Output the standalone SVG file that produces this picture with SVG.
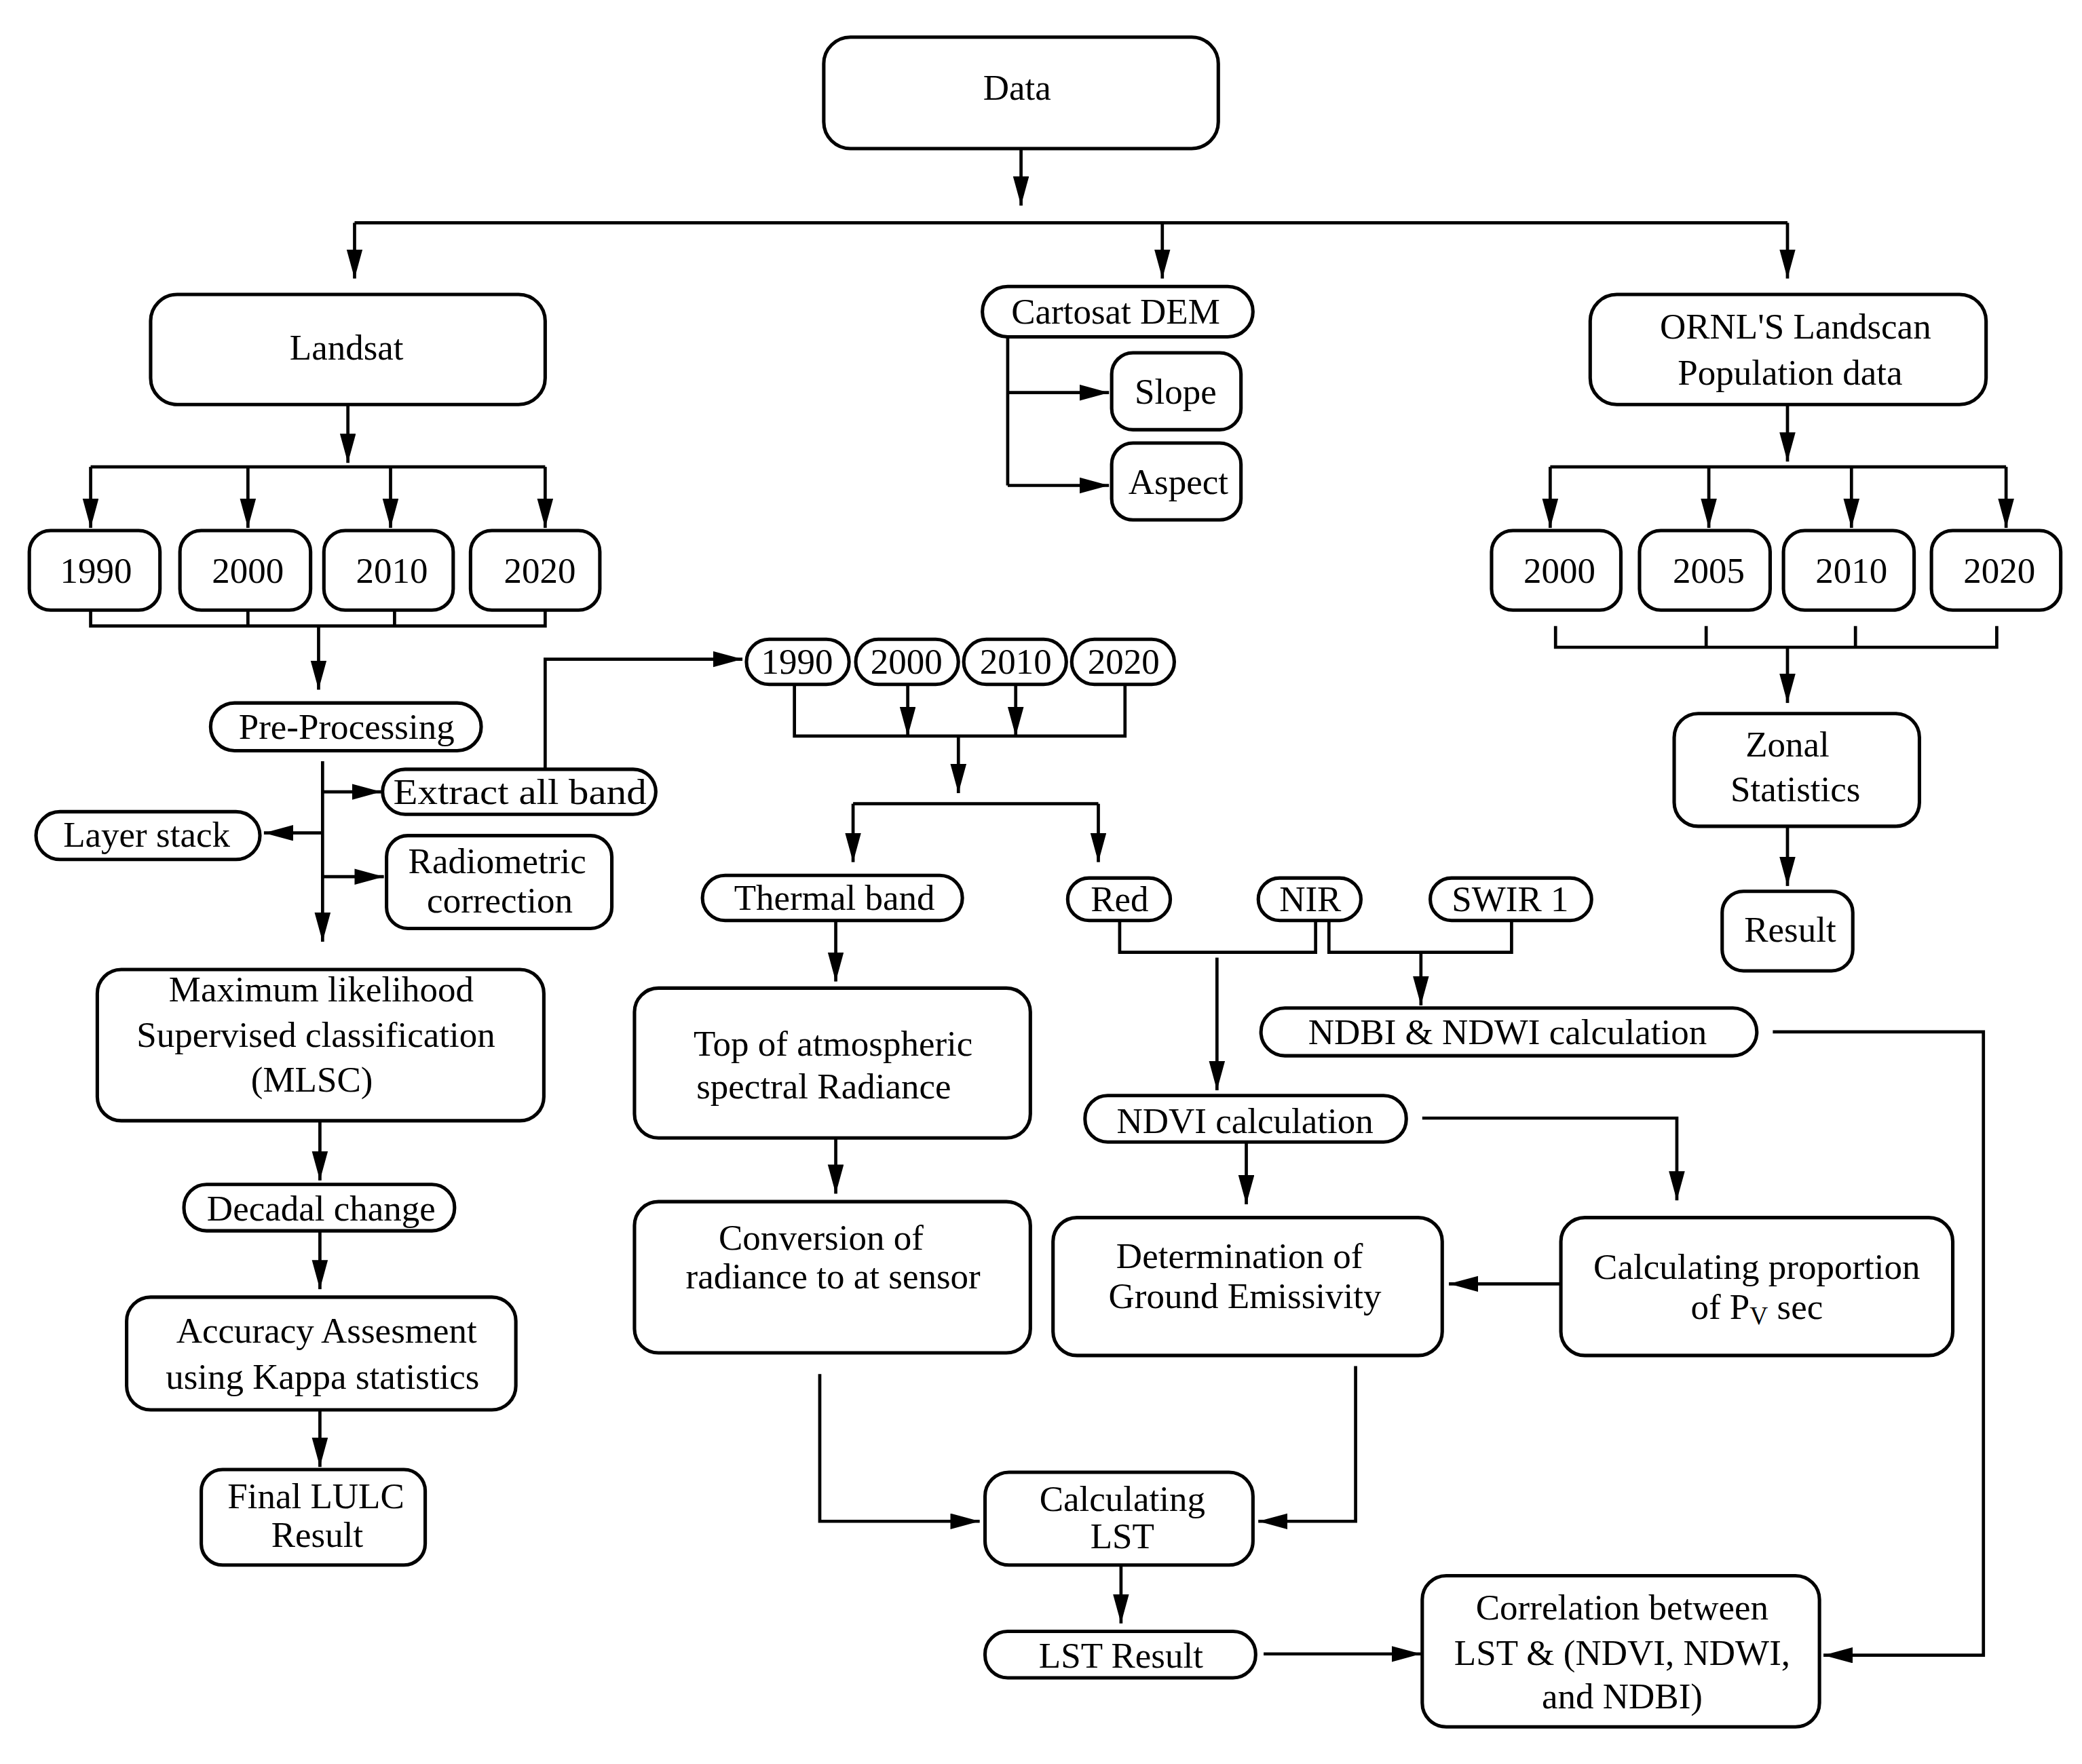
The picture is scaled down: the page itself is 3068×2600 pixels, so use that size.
<svg xmlns="http://www.w3.org/2000/svg" width="3068" height="2600" viewBox="0 0 3068 2600">
<style>
.b{fill:#fff;stroke:#000;stroke-width:2.6}
.c{fill:none;stroke:#000;stroke-width:2.4}
.a{fill:none;stroke:#000;stroke-width:2.4;marker-end:url(#ah)}
text{font-family:"Liberation Serif","Times New Roman",serif;font-size:27px;text-anchor:middle;dominant-baseline:central;fill:#000}
</style>
<defs>
<marker id="ah" markerUnits="userSpaceOnUse" markerWidth="24" markerHeight="14" refX="22" refY="6" orient="auto">
<path d="M0,0 L22,6 L0,12 Z" fill="#000"/>
</marker>
</defs>
<rect width="3068" height="2600" fill="#fff"/>
<g transform="scale(1.9642,1.9549)">
<g id="connectors">
<path class="a" d="M766,112 V155"/>
<path class="c" d="M266,168 H1341"/>
<path class="a" d="M266,168 V210"/><path class="a" d="M872,168 V210"/><path class="a" d="M1341,168 V210"/>
<path class="c" d="M756,254 V366"/>
<path class="a" d="M756,296 H832"/><path class="a" d="M756,366 H832"/>
<path class="a" d="M261,305 V349"/>
<path class="c" d="M68,352 H409"/>
<path class="a" d="M68,352 V398"/><path class="a" d="M186,352 V398"/><path class="a" d="M293,352 V398"/><path class="a" d="M409,352 V398"/>
<path class="c" d="M68,460 V472 H409 V460 M186,460 V472 M296,460 V472"/>
<path class="a" d="M239,472 V520"/>
<path class="a" d="M409,580 V497 H557"/>
<path class="c" d="M596,516 V555 H844 V516"/>
<path class="a" d="M681,516 V555"/><path class="a" d="M762,516 V555"/>
<path class="a" d="M719,555 V598"/>
<path class="c" d="M640,606 H824"/>
<path class="a" d="M640,606 V650"/><path class="a" d="M824,606 V650"/>
<path class="c" d="M840,694 V718 H987 V694"/>
<path class="a" d="M913,722 V822"/>
<path class="c" d="M997,694 V718 H1134 V694"/>
<path class="a" d="M1066,718 V758"/>
<path class="a" d="M1330,778 H1488 V1248 H1368"/>
<path class="a" d="M1067,843 H1258 V905"/>
<path class="a" d="M1171,968 H1087"/>
<path class="a" d="M935,861 V908"/>
<path class="a" d="M1017,1030 V1147 H944"/>
<path class="a" d="M627,694 V740"/>
<path class="a" d="M627,858 V900"/>
<path class="a" d="M615,1036 V1147 H735"/>
<path class="a" d="M841,1180 V1224"/>
<path class="a" d="M948,1247 H1066"/>
<path class="a" d="M242,574 V710"/>
<path class="a" d="M242,597 H286"/><path class="a" d="M242,628 H198"/><path class="a" d="M242,661 H288"/>
<path class="a" d="M240,845 V890"/><path class="a" d="M240,928 V972"/><path class="a" d="M240,1063 V1106"/>
<path class="a" d="M1341,305 V348"/>
<path class="c" d="M1163,352 H1505"/>
<path class="a" d="M1163,352 V398"/><path class="a" d="M1282,352 V398"/><path class="a" d="M1389,352 V398"/><path class="a" d="M1505,352 V398"/>
<path class="c" d="M1167,472 V488 H1498 V472 M1280,472 V488 M1392,472 V488"/>
<path class="a" d="M1341,488 V530"/>
<path class="a" d="M1341,623 V668"/>
</g>
<g id="data"><rect class="b" x="618" y="28" width="296" height="84" rx="20"/><text x="763" y="66">Data</text></g>
<g id="landsat"><rect class="b" x="113" y="222" width="296" height="83" rx="20"/><text x="260" y="262">Landsat</text></g>
<g id="cartosat"><rect class="b" x="737" y="216" width="203" height="38" rx="19"/><text x="837" y="235">Cartosat DEM</text></g>
<g id="slope"><rect class="b" x="834" y="266" width="97" height="58" rx="16"/><text x="882" y="295">Slope</text></g>
<g id="aspect"><rect class="b" x="834" y="334" width="97" height="58" rx="16"/><text x="884" y="363">Aspect</text></g>
<g id="ornl"><rect class="b" x="1193" y="222" width="297" height="83" rx="20"/><text x="1347" y="246">ORNL'S Landscan</text><text x="1343" y="281">Population data</text></g>
<g id="l1990"><rect class="b" x="22" y="400" width="98" height="60" rx="16"/><text x="72" y="430">1990</text></g>
<g id="l2000"><rect class="b" x="135" y="400" width="98" height="60" rx="16"/><text x="186" y="430">2000</text></g>
<g id="l2010"><rect class="b" x="243" y="400" width="97" height="60" rx="16"/><text x="294" y="430">2010</text></g>
<g id="l2020"><rect class="b" x="353" y="400" width="97" height="60" rx="16"/><text x="405" y="430">2020</text></g>
<g id="p2000"><rect class="b" x="1119" y="400" width="97" height="60" rx="16"/><text x="1170" y="430">2000</text></g>
<g id="p2005"><rect class="b" x="1230" y="400" width="98" height="60" rx="16"/><text x="1282" y="430">2005</text></g>
<g id="p2010"><rect class="b" x="1338" y="400" width="98" height="60" rx="16"/><text x="1389" y="430">2010</text></g>
<g id="p2020"><rect class="b" x="1449" y="400" width="97" height="60" rx="16"/><text x="1500" y="430">2020</text></g>
<g id="preproc"><rect class="b" x="158" y="530" width="203" height="36" rx="18"/><text x="260" y="548">Pre-Processing</text></g>
<g id="t1990"><rect class="b" x="560" y="482" width="77" height="34" rx="17"/><text x="598" y="499">1990</text></g>
<g id="t2000"><rect class="b" x="642" y="482" width="77" height="34" rx="17"/><text x="680" y="499">2000</text></g>
<g id="t2010"><rect class="b" x="723" y="482" width="77" height="34" rx="17"/><text x="762" y="499">2010</text></g>
<g id="t2020"><rect class="b" x="804" y="482" width="77" height="34" rx="17"/><text x="843" y="499">2020</text></g>
<g id="extract"><rect class="b" x="287" y="580" width="205" height="34" rx="17"/><text x="390" y="597" textLength="190" lengthAdjust="spacingAndGlyphs">Extract all band</text></g>
<g id="layer"><rect class="b" x="27" y="612" width="168" height="36" rx="18"/><text x="110" y="629">Layer stack</text></g>
<g id="radio"><rect class="b" x="290" y="630" width="169" height="70" rx="16"/><text x="373" y="649">Radiometric</text><text x="375" y="679">correction</text></g>
<g id="mlsc"><rect class="b" x="73" y="731" width="335" height="114" rx="18"/><text x="241" y="746">Maximum likelihood</text><text x="237" y="780">Supervised classification</text><text x="234" y="814">(MLSC)</text></g>
<g id="decadal"><rect class="b" x="138" y="893" width="203" height="35" rx="17"/><text x="241" y="911">Decadal change</text></g>
<g id="accuracy"><rect class="b" x="95" y="978" width="292" height="85" rx="18"/><text x="245" y="1003">Accuracy Assesment</text><text x="242" y="1038">using Kappa statistics</text></g>
<g id="final"><rect class="b" x="151" y="1108" width="168" height="72" rx="16"/><text x="237" y="1128">Final LULC</text><text x="238" y="1157">Result</text></g>
<g id="thermal"><rect class="b" x="527" y="660" width="195" height="34" rx="17"/><text x="626" y="677">Thermal band</text></g>
<g id="red"><rect class="b" x="801" y="662" width="77" height="32" rx="16"/><text x="840" y="678">Red</text></g>
<g id="nir"><rect class="b" x="944" y="662" width="77" height="32" rx="16"/><text x="983" y="678">NIR</text></g>
<g id="swir"><rect class="b" x="1073" y="662" width="121" height="32" rx="16"/><text x="1133" y="678">SWIR 1</text></g>
<g id="ndbi"><rect class="b" x="946" y="760" width="372" height="36" rx="18"/><text x="1131" y="778">NDBI &amp; NDWI calculation</text></g>
<g id="ndvi"><rect class="b" x="814" y="826" width="241" height="35" rx="17"/><text x="934" y="845">NDVI calculation</text></g>
<g id="toa"><rect class="b" x="476" y="745" width="297" height="113" rx="18"/><text x="625" y="787">Top of atmospheric</text><text x="618" y="819">spectral Radiance</text></g>
<g id="conv"><rect class="b" x="476" y="906" width="297" height="114" rx="18"/><text x="616" y="933">Conversion of</text><text x="625" y="962">radiance to at sensor</text></g>
<g id="emis"><rect class="b" x="790" y="918" width="292" height="104" rx="18"/><text x="930" y="947">Determination of</text><text x="934" y="977">Ground Emissivity</text></g>
<g id="prop"><rect class="b" x="1171" y="918" width="294" height="104" rx="18"/><text x="1318" y="955">Calculating proportion</text><text x="1318" y="985">of P<tspan font-size="19" dy="7">V</tspan><tspan dy="-7"> sec</tspan></text></g>
<g id="lst"><rect class="b" x="739" y="1110" width="201" height="70" rx="18"/><text x="842" y="1130">Calculating</text><text x="842" y="1158">LST</text></g>
<g id="lstres"><rect class="b" x="739" y="1230" width="203" height="35" rx="17"/><text x="841" y="1248">LST Result</text></g>
<g id="corr"><rect class="b" x="1067" y="1188" width="298" height="114" rx="18"/><text x="1217" y="1212">Correlation between</text><text x="1217" y="1246">LST &amp; (NDVI, NDWI,</text><text x="1217" y="1279">and NDBI)</text></g>
<g id="zonal"><rect class="b" x="1256" y="538" width="184" height="85" rx="18"/><text x="1341" y="561">Zonal</text><text x="1347" y="595">Statistics</text></g>
<g id="result"><rect class="b" x="1292" y="672" width="98" height="60" rx="16"/><text x="1343" y="701">Result</text></g>
</g>
</svg>
